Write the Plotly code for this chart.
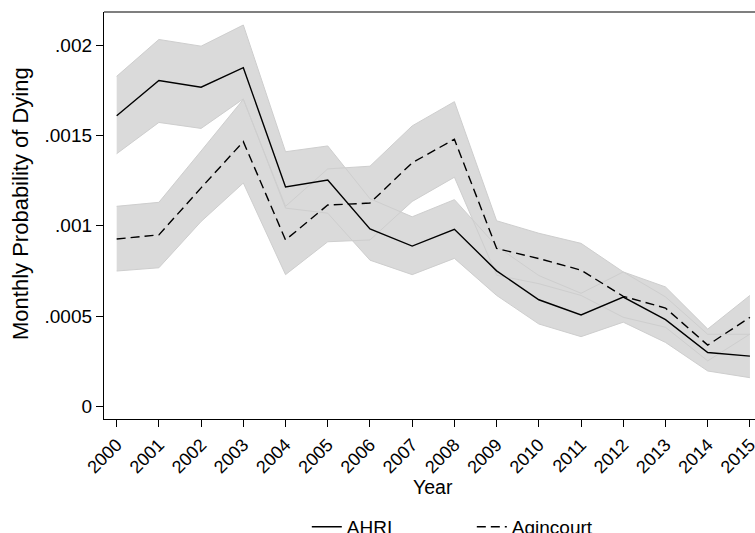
import plotly.graph_objects as go

years = list(range(2000, 2016))
year_labels = [str(y) for y in years]

ahri = [0.001609, 0.001804, 0.001767, 0.001875, 0.001215, 0.001253, 0.000983, 0.000888,
        0.000981, 0.000751, 0.000591, 0.000507, 0.000606, 0.000481, 0.000299, 0.000279]
ahri_lo = [0.001399, 0.001572, 0.001539, 0.001702, 0.001098, 0.00107, 0.00081, 0.00073,
           0.00082, 0.000615, 0.000457, 0.000387, 0.000467, 0.000355, 0.000197, 0.00016]
ahri_hi = [0.001827, 0.002031, 0.001994, 0.002111, 0.00141, 0.001442, 0.00115, 0.00105,
           0.001145, 0.000887, 0.000725, 0.000627, 0.000745, 0.000607, 0.0004, 0.0004]

agin = [0.000927, 0.00095, 0.00121, 0.001466, 0.000922, 0.001115, 0.001126, 0.001349,
        0.001479, 0.000875, 0.000819, 0.000755, 0.00061, 0.000545, 0.00034, 0.000494]
agin_lo = [0.00075, 0.000768, 0.001024, 0.001237, 0.00073, 0.000912, 0.000922, 0.001135,
           0.001269, 0.000727, 0.00068, 0.000615, 0.000494, 0.000439, 0.000253, 0.000401]
agin_hi = [0.001108, 0.00113, 0.001414, 0.0017, 0.001108, 0.001315, 0.00133, 0.001553,
           0.001687, 0.001028, 0.000959, 0.000903, 0.000745, 0.000662, 0.000429, 0.000615]

y_tickvals = [0, 0.0005, 0.001, 0.0015, 0.002]
y_ticktext = ["0", ".0005", ".001", ".0015", ".002"]

FILL = "#dadada"
EDGE = "#cecece"
FONT = "Liberation Sans, Arial, sans-serif"

fig = go.Figure()


def band(lo, hi):
    fig.add_trace(go.Scatter(x=years, y=lo, mode="lines", line=dict(width=0),
                             showlegend=False, hoverinfo="skip"))
    fig.add_trace(go.Scatter(x=years, y=hi, mode="lines", line=dict(width=0),
                             fill="tonexty", fillcolor=FILL, showlegend=False,
                             hoverinfo="skip"))


band(ahri_lo, ahri_hi)
band(agin_lo, agin_hi)
for edge in (ahri_lo, ahri_hi, agin_lo, agin_hi):
    fig.add_trace(go.Scatter(x=years, y=edge, mode="lines",
                             line=dict(color=EDGE, width=1),
                             showlegend=False, hoverinfo="skip"))

fig.add_trace(go.Scatter(x=years, y=ahri, mode="lines", name="AHRI",
                         line=dict(color="black", width=1.4)))
fig.add_trace(go.Scatter(x=years, y=agin, mode="lines", name="Agincourt",
                         line=dict(color="black", width=1.4, dash="9px,5px")))

fig.update_layout(
    width=755, height=546,
    margin=dict(l=104, r=0, t=12, b=120),
    paper_bgcolor="white", plot_bgcolor="white",
    font=dict(family=FONT, size=18, color="black"),
    showlegend=True,
    legend=dict(orientation="h", x=0.565, xanchor="center", y=-0.265,
                yanchor="middle", font=dict(size=19), traceorder="normal",
                entrywidth=120, entrywidthmode="pixels",
                bgcolor="rgba(0,0,0,0)"),
    xaxis=dict(range=[1999.70, 2015.12], tickvals=years, ticktext=year_labels,
               tickangle=-45, showgrid=False, zeroline=False, automargin=False,
               ticklabeloverflow="allow",
               showline=True, linecolor="black", linewidth=1.3,
               ticks="outside", ticklen=7, tickwidth=1.2, tickcolor="black",
               tickfont=dict(size=18)),
    yaxis=dict(range=[-0.0000686, 0.002183], tickvals=y_tickvals, ticktext=y_ticktext,
               showgrid=False, zeroline=False, automargin=False,
               showline=True, linecolor="black", linewidth=1.3,
               ticks="outside", ticklen=7, tickwidth=1.2, tickcolor="black",
               tickfont=dict(size=19)),
    shapes=[dict(type="line", xref="paper", yref="paper", x0=0, x1=1, y0=1, y1=1,
                 line=dict(color="#555555", width=1.5))],
    annotations=[
        dict(text="Year", xref="paper", yref="paper", x=0.505, y=-0.167,
             xanchor="center", yanchor="middle", showarrow=False,
             font=dict(size=19.5)),
        dict(text="Monthly Probability of Dying", xref="paper", yref="paper",
             x=-0.128, y=0.53, xanchor="center", yanchor="middle", textangle=-90,
             showarrow=False, font=dict(size=22)),
    ],
)

post = (
    "document.documentElement.style.margin='0';"
    "document.body.style.margin='0';"
    "document.body.style.overflow='hidden';"
    "var d=document.querySelector('.plotly-graph-div');"
    "d.style.position='fixed';d.style.left='0';d.style.top='0';"
)

fig.write_html("out.html", config={"displayModeBar": False}, post_script=post)
